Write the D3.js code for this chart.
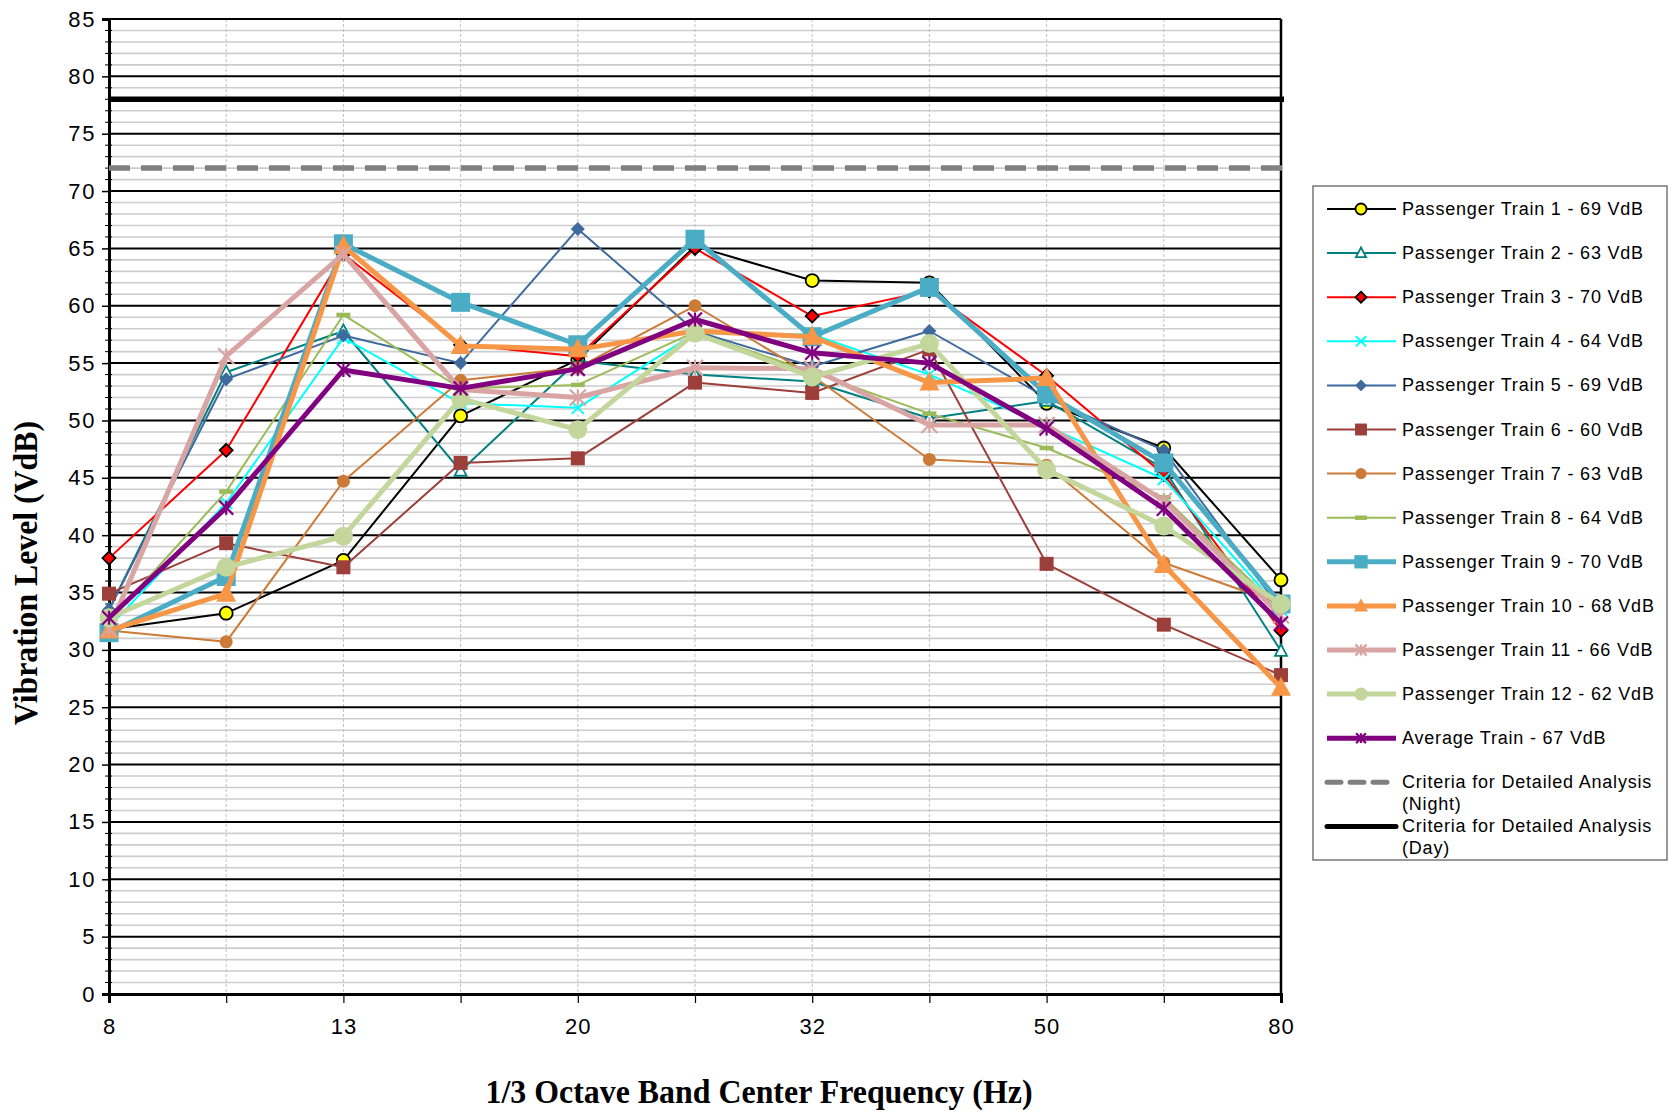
<!DOCTYPE html>
<html><head><meta charset="utf-8">
<script src="https://cdn.jsdelivr.net/npm/d3@7"></script>
<style>body{margin:0;background:#fff}svg{display:block}</style>
</head><body>
<svg id="c" width="1671" height="1112"></svg>
<script>
const categories = ["8","10","12.5","16","20","25","31.5","40","50","63","80"];
const tickLabels = {"8":"8","12.5":"13","20":"20","31.5":"32","50":"50","80":"80"};
const yTicks = [0,5,10,15,20,25,30,35,40,45,50,55,60,65,70,75,80,85];

const train1  = [31.8, 33.2, 37.8, 50.4, 55.3, 65.2, 62.2, 62.0, 51.5, 47.6, 36.1];
const train2  = [33.5, 54.2, 57.8, 45.6, 55.2, 54.0, 53.4, 50.2, 51.7, 45.8, 29.9];
const train3  = [38.0, 47.4, 64.5, 56.6, 55.6, 65.0, 59.1, 61.3, 53.9, 45.3, 31.7];
const train4  = [32.0, 42.8, 57.2, 51.5, 51.1, 57.6, 57.5, 54.0, 49.5, 44.9, 33.5];
const train5  = [33.5, 53.6, 57.4, 55.0, 66.7, 57.8, 54.7, 57.8, 52.0, 47.4, 33.5];
const train6  = [34.9, 39.3, 37.2, 46.3, 46.7, 53.3, 52.4, 56.2, 37.5, 32.2, 27.8];
const train7  = [31.7, 30.7, 44.7, 53.5, 54.6, 60.0, 53.9, 46.6, 46.1, 37.6, 34.0];
const train8  = [32.5, 43.8, 59.2, 52.8, 53.1, 57.7, 54.2, 50.6, 47.6, 43.3, 33.5];
const train9  = [31.5, 36.4, 65.4, 60.3, 56.6, 65.8, 57.3, 61.6, 52.3, 46.3, 34.0];
const train10 = [31.7, 34.9, 65.2, 56.5, 56.2, 57.8, 57.3, 53.3, 53.7, 37.4, 26.7];
const train11 = [31.8, 55.6, 64.5, 52.7, 52.0, 54.6, 54.5, 49.6, 49.6, 43.0, 33.0];
const train12 = [32.8, 37.2, 39.9, 51.9, 49.2, 57.6, 53.8, 56.7, 45.7, 40.8, 34.0];
const average = [32.8, 42.4, 54.4, 52.8, 54.5, 58.8, 55.9, 55.0, 49.3, 42.3, 32.3];
const nightCriteria = 72;
const dayCriteria = 78;

const seriesNames = ["Passenger Train 1 - 69 VdB","Passenger Train 2 - 63 VdB","Passenger Train 3 - 70 VdB",
 "Passenger Train 4 - 64 VdB","Passenger Train 5 - 69 VdB","Passenger Train 6 - 60 VdB","Passenger Train 7 - 63 VdB",
 "Passenger Train 8 - 64 VdB","Passenger Train 9 - 70 VdB","Passenger Train 10 - 68 VdB","Passenger Train 11 - 66 VdB",
 "Passenger Train 12 - 62 VdB","Average Train - 67 VdB"];
const seriesValues = [train1,train2,train3,train4,train5,train6,train7,train8,train9,train10,train11,train12,average];

const styles = [
 {c:"#000000", w:2, m:"circle", fill:"#ffff00", stroke:"#000", s:6.5},
 {c:"#008080", w:2, m:"triangle", fill:"#fff", stroke:"#008080", s:6},
 {c:"#ff0000", w:2, m:"diamond", fill:"#ff0000", stroke:"#000", s:6.5},
 {c:"#00ffff", w:2, m:"x", fill:"none", stroke:"#00ffff", s:6},
 {c:"#3f6a9e", w:2, m:"diamond", fill:"#3f6a9e", stroke:"none", s:7},
 {c:"#9c3f3b", w:2, m:"square", fill:"#9c3f3b", stroke:"none", s:7},
 {c:"#cc7a38", w:2, m:"circle", fill:"#cc7a38", stroke:"none", s:6.5},
 {c:"#9bbb59", w:2, m:"dash", fill:"none", stroke:"#9bbb59", s:7},
 {c:"#4bacc6", w:5, m:"square", fill:"#4bacc6", stroke:"none", s:9.5},
 {c:"#f79646", w:5, m:"triangle", fill:"#f79646", stroke:"none", s:10},
 {c:"#d9a5a4", w:5, m:"star", fill:"none", stroke:"#d9a5a4", s:8},
 {c:"#c3d69b", w:5, m:"circle", fill:"#c3d69b", stroke:"none", s:9.5},
 {c:"#800080", w:5, m:"star", fill:"none", stroke:"#800080", s:7}
];

const svg = d3.select("#c");
const L=109, R=1281, T=19, B=994;
const x = d3.scalePoint().domain(categories).range([L,R]).padding(0);
const y = d3.scaleLinear().domain([0,85]).range([B,T]);
const sansFont = "Liberation Sans, Arial";

// minor gridlines
const minor = d3.range(0,86,1).filter(v=>v%5!==0);
svg.append("g").selectAll("line").data(minor).join("line")
 .attr("x1",L).attr("x2",R).attr("y1",d=>y(d)).attr("y2",d=>y(d))
 .attr("stroke","#cdcdcd").attr("stroke-width",1.6);
// vertical gridlines
svg.append("g").selectAll("line").data(categories).join("line")
 .attr("x1",d=>x(d)).attr("x2",d=>x(d)).attr("y1",T).attr("y2",B)
 .attr("stroke","#c0c0c0").attr("stroke-width",1).attr("stroke-dasharray","3,2");
// major gridlines
svg.append("g").selectAll("line").data(yTicks).join("line")
 .attr("x1",L).attr("x2",R).attr("y1",d=>y(d)).attr("y2",d=>y(d))
 .attr("stroke","#000").attr("stroke-width",2);

// y axis
const yAxis = svg.append("g").attr("transform",`translate(${L},0)`)
 .call(d3.axisLeft(y).tickValues(yTicks).tickSize(7).tickPadding(6));
yAxis.select(".domain").attr("stroke-width",3);
yAxis.selectAll(".tick line").attr("stroke-width",1.5);
yAxis.selectAll("text").attr("font-family",sansFont).attr("font-size",22).attr("letter-spacing",1.6).attr("fill","#000");
svg.append("g").selectAll("line").data(minor).join("line")
 .attr("x1",L-4).attr("x2",L+3).attr("y1",d=>y(d)).attr("y2",d=>y(d))
 .attr("stroke","#000").attr("stroke-width",1);

// x axis
const xAxis = svg.append("g").attr("transform",`translate(0,${B})`)
 .call(d3.axisBottom(x).tickSize(9).tickPadding(15).tickFormat(d=>tickLabels[d]||""));
xAxis.select(".domain").attr("stroke-width",3);
xAxis.selectAll(".tick line").attr("stroke-width",1.2);
xAxis.selectAll("text").attr("font-family",sansFont).attr("font-size",22).attr("letter-spacing",1).attr("fill","#000");
// right border
svg.append("line").attr("x1",R).attr("x2",R).attr("y1",T).attr("y2",B).attr("stroke","#000").attr("stroke-width",2.5);

// marker helper
function marker(g, st, cx, cy, scale){
 const s = st.s*(scale||1);
 if(st.m==="circle"){
  g.append("circle").attr("cx",cx).attr("cy",cy).attr("r",s).attr("fill",st.fill)
   .attr("stroke",st.stroke).attr("stroke-width",st.stroke==="none"?0:1.8);
 } else if(st.m==="square"){
  g.append("rect").attr("x",cx-s).attr("y",cy-s).attr("width",2*s).attr("height",2*s).attr("fill",st.fill);
 } else if(st.m==="diamond"){
  g.append("path").attr("d",`M${cx},${cy-s}L${cx+s},${cy}L${cx},${cy+s}L${cx-s},${cy}Z`)
   .attr("fill",st.fill).attr("stroke",st.stroke).attr("stroke-width",st.stroke==="none"?0:1.8);
 } else if(st.m==="triangle"){
  g.append("path").attr("d",`M${cx},${cy-s*1.1}L${cx+s},${cy+s*0.8}L${cx-s},${cy+s*0.8}Z`)
   .attr("fill",st.fill).attr("stroke",st.stroke).attr("stroke-width",st.fill==="#fff"?1.8:0);
 } else if(st.m==="x"){
  g.append("path").attr("d",`M${cx-s},${cy-s}L${cx+s},${cy+s}M${cx-s},${cy+s}L${cx+s},${cy-s}`)
   .attr("stroke",st.stroke).attr("stroke-width",2);
 } else if(st.m==="star"){
  g.append("path").attr("d",`M${cx-s},${cy-s}L${cx+s},${cy+s}M${cx-s},${cy+s}L${cx+s},${cy-s}M${cx},${cy-s}L${cx},${cy+s}`)
   .attr("stroke",st.stroke).attr("stroke-width",2.2);
 } else if(st.m==="dash"){
  g.append("path").attr("d",`M${cx-s},${cy}L${cx+s},${cy}`).attr("stroke",st.stroke).attr("stroke-width",4.5);
 }
}

const line = d3.line().x((d,i)=>x(categories[i])).y(d=>y(d));
const plot = svg.append("g");
seriesValues.forEach((vals,k)=>{
 const st = styles[k];
 const g = plot.append("g");
 g.append("path").attr("d",line(vals)).attr("fill","none").attr("stroke",st.c)
  .attr("stroke-width",st.w).attr("stroke-linejoin","round");
 vals.forEach((v,i)=>marker(g, st, x(categories[i]), y(v)));
});
// criteria lines
svg.append("line").attr("x1",L).attr("x2",R+3).attr("y1",y(nightCriteria)).attr("y2",y(nightCriteria))
 .attr("stroke","#808080").attr("stroke-width",5.5).attr("stroke-dasharray","21,11");
svg.append("line").attr("x1",L).attr("x2",R+3).attr("y1",y(dayCriteria)).attr("y2",y(dayCriteria))
 .attr("stroke","#000").attr("stroke-width",5.5);

// axis titles
svg.append("text").attr("transform","translate(37,573) rotate(-90)").attr("text-anchor","middle")
 .attr("font-family","Liberation Serif, Times New Roman").attr("font-weight","bold").attr("font-size",34)
 .attr("textLength",304).attr("lengthAdjust","spacingAndGlyphs")
 .text("Vibration Level (VdB)");
svg.append("text").attr("x",759).attr("y",1103).attr("text-anchor","middle")
 .attr("font-family","Liberation Serif, Times New Roman").attr("font-weight","bold").attr("font-size",34)
 .attr("textLength",547).attr("lengthAdjust","spacingAndGlyphs")
 .text("1/3 Octave Band Center Frequency (Hz)");

// legend
const lg = svg.append("g");
lg.append("rect").attr("x",1313).attr("y",186).attr("width",354).attr("height",674)
 .attr("fill","#fff").attr("stroke","#555").attr("stroke-width",1.2);
const ly0=209, ldy=44.1;
seriesNames.forEach((n,k)=>{
 const st=styles[k]; const yy=ly0+k*ldy;
 lg.append("line").attr("x1",1327).attr("x2",1396).attr("y1",yy).attr("y2",yy).attr("stroke",st.c).attr("stroke-width",st.w);
 marker(lg, st, 1361, yy, st.w>2?0.7:0.85);
 lg.append("text").attr("x",1402).attr("y",yy+6).attr("font-family",sansFont).attr("font-size",18).attr("letter-spacing",0.8).text(n);
});
const critNames = [["Criteria for Detailed Analysis","(Night)"],["Criteria for Detailed Analysis","(Day)"]];
critNames.forEach((n,k)=>{
 const yy=ly0+(13+k)*ldy;
 const ln=lg.append("line").attr("x1",1327).attr("x2",1396).attr("y1",yy).attr("y2",yy).attr("stroke-width",5);
 if(k===0) ln.attr("stroke","#808080").attr("stroke-dasharray","14,9").attr("stroke-linecap","round");
 else ln.attr("stroke","#000").attr("stroke-linecap","round");
 lg.append("text").attr("x",1402).attr("y",yy+6).attr("font-family",sansFont).attr("font-size",18).attr("letter-spacing",0.8).text(n[0]);
 lg.append("text").attr("x",1402).attr("y",yy+28).attr("font-family",sansFont).attr("font-size",18).attr("letter-spacing",0.8).text(n[1]);
});
</script>
</body></html>
